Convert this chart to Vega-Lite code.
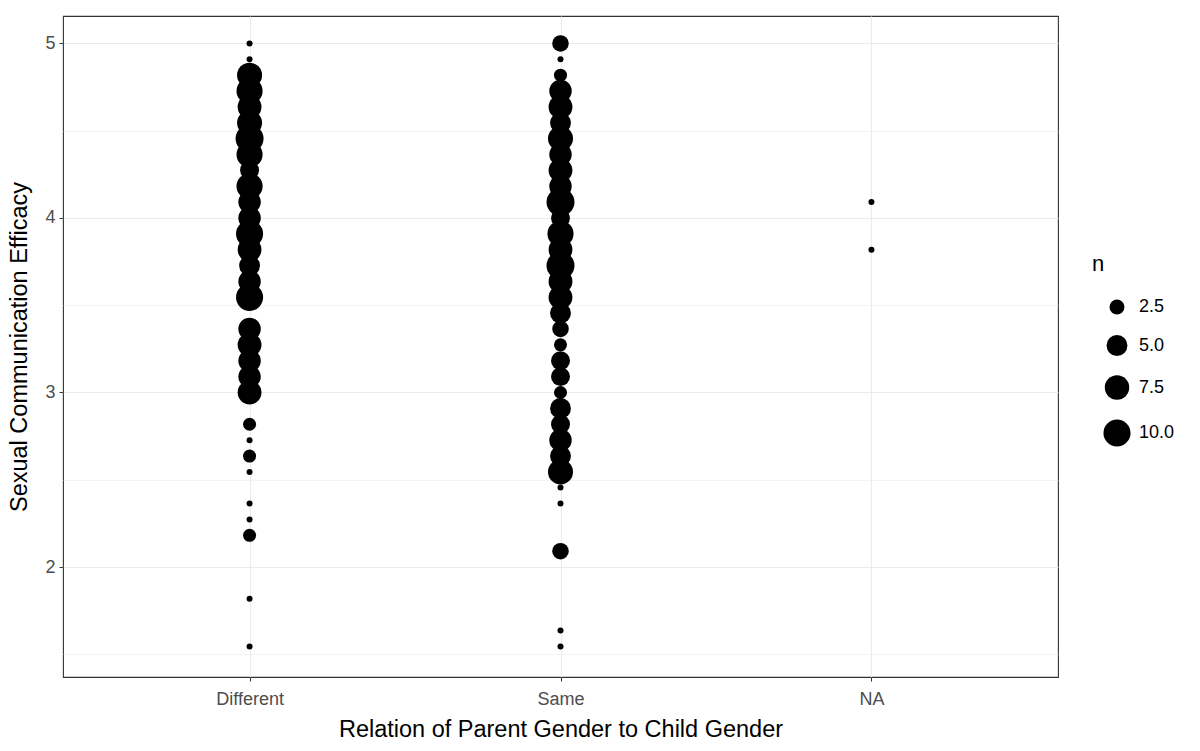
{
  "$schema": "https://vega.github.io/schema/vega-lite/v6.json",
  "width": 995,
  "height": 661,
  "autosize": {"type": "none"},
  "padding": {"left": 63, "top": 16, "right": 142, "bottom": 74},
  "background": "white",
  "config": {
    "font": "Liberation Sans",
    "view": {"stroke": "#333333", "strokeWidth": 1.1}
  },
  "data": {
    "values": [
      {"relation": "Different", "efficacy": 5, "n": 1},
      {"relation": "Different", "efficacy": 4.909, "n": 1},
      {"relation": "Different", "efficacy": 4.818, "n": 8},
      {"relation": "Different", "efficacy": 4.727, "n": 9},
      {"relation": "Different", "efficacy": 4.636, "n": 7},
      {"relation": "Different", "efficacy": 4.545, "n": 8},
      {"relation": "Different", "efficacy": 4.455, "n": 11},
      {"relation": "Different", "efficacy": 4.364, "n": 9},
      {"relation": "Different", "efficacy": 4.273, "n": 4},
      {"relation": "Different", "efficacy": 4.182, "n": 9},
      {"relation": "Different", "efficacy": 4.091, "n": 6},
      {"relation": "Different", "efficacy": 4, "n": 6},
      {"relation": "Different", "efficacy": 3.909, "n": 10},
      {"relation": "Different", "efficacy": 3.818, "n": 7},
      {"relation": "Different", "efficacy": 3.727, "n": 5},
      {"relation": "Different", "efficacy": 3.636, "n": 6},
      {"relation": "Different", "efficacy": 3.545, "n": 10},
      {"relation": "Different", "efficacy": 3.364, "n": 6},
      {"relation": "Different", "efficacy": 3.273, "n": 7},
      {"relation": "Different", "efficacy": 3.182, "n": 6},
      {"relation": "Different", "efficacy": 3.091, "n": 6},
      {"relation": "Different", "efficacy": 3, "n": 7},
      {"relation": "Different", "efficacy": 2.818, "n": 2},
      {"relation": "Different", "efficacy": 2.727, "n": 1},
      {"relation": "Different", "efficacy": 2.636, "n": 2},
      {"relation": "Different", "efficacy": 2.545, "n": 1},
      {"relation": "Different", "efficacy": 2.364, "n": 1},
      {"relation": "Different", "efficacy": 2.273, "n": 1},
      {"relation": "Different", "efficacy": 2.182, "n": 2},
      {"relation": "Different", "efficacy": 1.818, "n": 1},
      {"relation": "Different", "efficacy": 1.545, "n": 1},
      {"relation": "Same", "efficacy": 5, "n": 3},
      {"relation": "Same", "efficacy": 4.909, "n": 1},
      {"relation": "Same", "efficacy": 4.818, "n": 2},
      {"relation": "Same", "efficacy": 4.727, "n": 6},
      {"relation": "Same", "efficacy": 4.636, "n": 7},
      {"relation": "Same", "efficacy": 4.545, "n": 5},
      {"relation": "Same", "efficacy": 4.455, "n": 8},
      {"relation": "Same", "efficacy": 4.364, "n": 6},
      {"relation": "Same", "efficacy": 4.273, "n": 7},
      {"relation": "Same", "efficacy": 4.182, "n": 6},
      {"relation": "Same", "efficacy": 4.091, "n": 11},
      {"relation": "Same", "efficacy": 4, "n": 4},
      {"relation": "Same", "efficacy": 3.909, "n": 9},
      {"relation": "Same", "efficacy": 3.818, "n": 7},
      {"relation": "Same", "efficacy": 3.727, "n": 11},
      {"relation": "Same", "efficacy": 3.636, "n": 7},
      {"relation": "Same", "efficacy": 3.545, "n": 7},
      {"relation": "Same", "efficacy": 3.455, "n": 5},
      {"relation": "Same", "efficacy": 3.364, "n": 3},
      {"relation": "Same", "efficacy": 3.273, "n": 2},
      {"relation": "Same", "efficacy": 3.182, "n": 4},
      {"relation": "Same", "efficacy": 3.091, "n": 4},
      {"relation": "Same", "efficacy": 3, "n": 2},
      {"relation": "Same", "efficacy": 2.909, "n": 5},
      {"relation": "Same", "efficacy": 2.818, "n": 4},
      {"relation": "Same", "efficacy": 2.727, "n": 6},
      {"relation": "Same", "efficacy": 2.636, "n": 5},
      {"relation": "Same", "efficacy": 2.545, "n": 8},
      {"relation": "Same", "efficacy": 2.455, "n": 1},
      {"relation": "Same", "efficacy": 2.364, "n": 1},
      {"relation": "Same", "efficacy": 2.091, "n": 3},
      {"relation": "Same", "efficacy": 1.636, "n": 1},
      {"relation": "Same", "efficacy": 1.545, "n": 1},
      {"relation": "NA", "efficacy": 4.091, "n": 1},
      {"relation": "NA", "efficacy": 3.818, "n": 1}
    ]
  },
  "mark": {"type": "circle", "color": "black", "opacity": 1},
  "encoding": {
    "x": {
      "field": "relation",
      "type": "nominal",
      "sort": ["Different", "Same", "NA"],
      "scale": {"type": "point", "padding": 0.6},
      "axis": {
        "title": "Relation of Parent Gender to Child Gender",
        "titleFontSize": 23.5,
        "titleFontWeight": "normal",
        "titleColor": "black",
        "titlePadding": 9,
        "labelFontSize": 18,
        "labelColor": "#4D4D4D",
        "labelAngle": 0,
        "labelPadding": 9,
        "tickColor": "#333333",
        "tickSize": 4,
        "domain": false,
        "grid": true,
        "gridColor": "#EBEBEB",
        "gridWidth": 1.1
      }
    },
    "y": {
      "field": "efficacy",
      "type": "quantitative",
      "scale": {"domain": [1.37, 5.157], "nice": false, "zero": false},
      "axis": {
        "title": "Sexual Communication Efficacy",
        "titleFontSize": 23.5,
        "titleFontWeight": "normal",
        "titleColor": "black",
        "titlePadding": 13,
        "values": [1.5, 2, 2.5, 3, 3.5, 4, 4.5, 5],
        "format": ".0f",
        "labelExpr": "datum.value % 1 === 0 ? datum.label : ''",
        "labelFontSize": 18,
        "labelColor": "#4D4D4D",
        "labelPadding": 4,
        "tickColor": "#333333",
        "tickSize": 4,
        "tickOpacity": {"condition": {"test": "datum.value % 1 === 0", "value": 1}, "value": 0},
        "domain": false,
        "grid": true,
        "gridColor": "#EBEBEB",
        "gridWidth": {"condition": {"test": "datum.value % 1 === 0", "value": 1.1}, "value": 0.6}
      }
    },
    "size": {
      "field": "n",
      "type": "quantitative",
      "scale": {"type": "pow", "exponent": 0.5, "domain": [1, 11], "range": [36, 784]},
      "legend": {
        "title": "n",
        "titleFontSize": 22,
        "titleFontWeight": "normal",
        "titleColor": "black",
        "titlePadding": 22,
        "values": [2.5, 5, 7.5, 10],
        "format": ".1f",
        "labelFontSize": 18,
        "labelColor": "black",
        "labelOffset": 8,
        "symbolFillColor": "black",
        "symbolStrokeWidth": 0,
        "symbolOpacity": 1,
        "symbolOffset": 11,
        "rowPadding": 19,
        "orient": "none",
        "legendX": 1029,
        "legendY": 238,
        "padding": 0
      }
    }
  }
}
